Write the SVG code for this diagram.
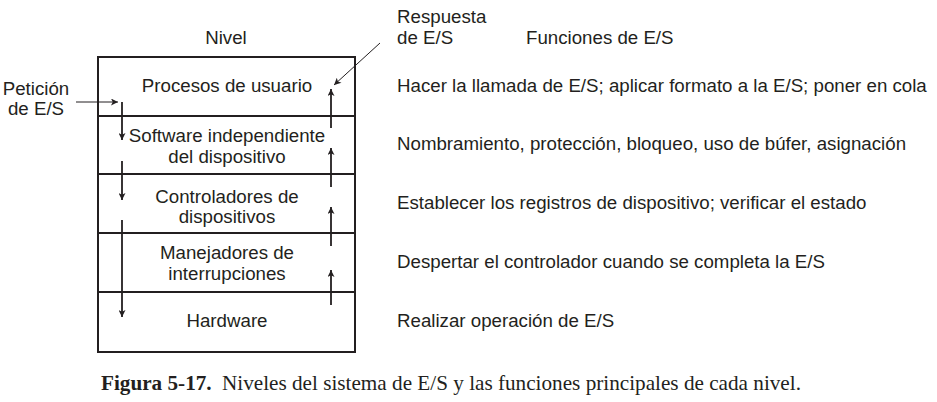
<svg xmlns="http://www.w3.org/2000/svg" width="937" height="402" viewBox="0 0 937 402">
<defs>
<style>
.t{font-family:"Liberation Sans",Arial,sans-serif;font-size:18.7px;fill:#231f20}
.c{text-anchor:middle}
.box{fill:#fff;stroke:#231f20;stroke-width:2}
.ar{stroke:#231f20;stroke-width:1.8;fill:none;marker-end:url(#ah)}
.thin{stroke:#231f20;stroke-width:1;fill:none;marker-end:url(#ah)}
.cap{font-family:"Liberation Serif","Times New Roman",serif;font-size:21.2px;fill:#231f20}
</style>
<marker id="ah" viewBox="0 0 10 10" refX="10" refY="5" markerWidth="14" markerHeight="7" markerUnits="userSpaceOnUse" orient="auto">
<path d="M0,0 L10,5 L0,10 L2.5,5 z" fill="#231f20"/>
</marker>
</defs>
<text class="t c" x="226" y="44">Nivel</text>
<text class="t" x="397" y="23">Respuesta</text>
<text class="t" x="397" y="44">de E/S</text>
<text class="t" x="526" y="44">Funciones de E/S</text>
<text class="t c" x="36" y="95">Petición</text>
<text class="t c" x="36" y="115">de E/S</text>

<g id="nivel-procesos">
<rect class="box" x="98" y="57" width="257" height="59"/>
<text class="t c" x="227" y="92">Procesos de usuario</text>
</g>
<g id="nivel-software">
<rect class="box" x="98" y="116" width="257" height="58"/>
<text class="t c" x="227" y="142">Software independiente</text>
<text class="t c" x="227" y="163">del dispositivo</text>
</g>
<g id="nivel-controladores">
<rect class="box" x="98" y="174" width="257" height="59"/>
<text class="t c" x="227" y="203">Controladores de</text>
<text class="t c" x="227" y="223">dispositivos</text>
</g>
<g id="nivel-manejadores">
<rect class="box" x="98" y="233" width="257" height="59"/>
<text class="t c" x="227" y="259">Manejadores de</text>
<text class="t c" x="227" y="280">interrupciones</text>
</g>
<g id="nivel-hardware">
<rect class="box" x="98" y="292" width="257" height="60"/>
<text class="t c" x="227" y="327">Hardware</text>
</g>

<g id="funciones">
<text class="t" x="397" y="92">Hacer la llamada de E/S; aplicar formato a la E/S; poner en cola</text>
<text class="t" x="397" y="150">Nombramiento, protección, bloqueo, uso de búfer, asignación</text>
<text class="t" x="397" y="209">Establecer los registros de dispositivo; verificar el estado</text>
<text class="t" x="397" y="268">Despertar el controlador cuando se completa la E/S</text>
<text class="t" x="397" y="327">Realizar operación de E/S</text>
</g>

<g id="connectors">
<line class="thin" x1="76" y1="102" x2="118" y2="102"/>
<line class="ar" x1="122" y1="102" x2="122" y2="140"/>
<line class="ar" x1="122" y1="161" x2="122" y2="200"/>
<line class="ar" x1="122" y1="220" x2="122" y2="317"/>
<line class="ar" x1="331" y1="305" x2="331" y2="270"/>
<line class="ar" x1="331" y1="246" x2="331" y2="207"/>
<line class="ar" x1="331" y1="187" x2="331" y2="148"/>
<line class="ar" x1="331" y1="128" x2="331" y2="89"/>
<line class="thin" x1="380" y1="43" x2="334" y2="85"/>
</g>

<text class="cap" x="101" y="390"><tspan font-weight="bold">Figura 5-17.</tspan><tspan x="222">Niveles del sistema de E/S y las funciones principales de cada nivel.</tspan></text>
</svg>
